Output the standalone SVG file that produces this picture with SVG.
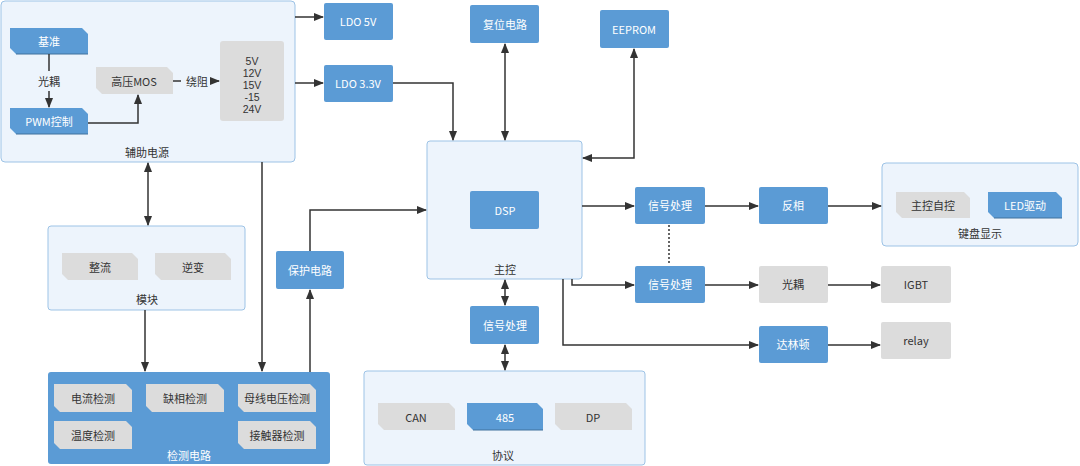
<svg xmlns="http://www.w3.org/2000/svg" width="1080" height="466" viewBox="0 0 1080 466">
<defs>
<style>
text{font-family:"Noto Sans CJK SC","Noto Sans",sans-serif;font-size:11px;text-anchor:middle;dominant-baseline:central;fill:#333}
.w{fill:#fff}
.v{font-family:"Liberation Sans",sans-serif;font-size:10.5px}
.panel{fill:#EDF4FC;stroke:#9DC3E6;stroke-width:1}
.blue{fill:#5B9BD5}
.gray{fill:#DCDCDC}
.ln{fill:none;stroke:#333;stroke-width:1.5}
</style>
<marker id="a" viewBox="0 0 10 10" refX="9" refY="5" markerWidth="7" markerHeight="7" orient="auto-start-reverse"><path d="M0,1 L10,5 L0,9 z" fill="#333"/></marker>
</defs>
<rect width="1080" height="466" fill="#fff"/>

<g id="aux"><rect class="panel" x="1" y="1" width="294" height="161" rx="4"/>
<text x="147" y="152">辅助电源</text>
<rect class="gray" x="220" y="41" width="64" height="80" rx="3"/>
<text class="v" x="252" y="61">5V</text><text class="v" x="252" y="73">12V</text><text class="v" x="252" y="85">15V</text><text class="v" x="252" y="97">-15</text><text class="v" x="252" y="109">24V</text></g>
<g id="jizhun"><path class="blue" d="M10,28 H82 L88,34 V54 H16 L10,48 Z"/><line x1="16" y1="54" x2="88" y2="54" stroke="#41719C"/><text class="w" x="49" y="41">基准</text></g>
<g id="pwm"><path class="blue" d="M10,108 H82 L88,114 V134 H16 L10,128 Z"/><line x1="16" y1="134" x2="88" y2="134" stroke="#41719C"/><text class="w" x="49" y="121">PWM控制</text></g>
<g id="mos"><path class="gray" d="M96,67 H167 L173,73 V94 H102 L96,88 Z"/><text x="134" y="81">高压MOS</text></g>

<g id="ldo5"><rect class="blue" x="324" y="3" width="69" height="37" rx="2"/><text class="w" x="358" y="21">LDO 5V</text></g>
<g id="ldo33"><rect class="blue" x="324" y="65" width="69" height="37" rx="2"/><text class="w" x="358" y="83">LDO 3.3V</text></g>
<g id="reset"><rect class="blue" x="470" y="5" width="69" height="38" rx="2"/><text class="w" x="505" y="24">复位电路</text></g>
<g id="eeprom"><rect class="blue" x="600" y="10" width="69" height="38" rx="2"/><text class="w" x="634" y="29">EEPROM</text></g>

<g id="mcu"><rect class="panel" x="427" y="141" width="155" height="138" rx="3"/><text x="505" y="269">主控</text>
<rect class="blue" x="470" y="191" width="69" height="38" rx="2"/><text class="w" x="505" y="210">DSP</text></g>

<g id="sig1"><rect class="blue" x="635" y="187" width="70" height="37" rx="2"/><text class="w" x="670" y="205">信号处理</text></g>
<g id="sig2"><rect class="blue" x="635" y="266" width="70" height="37" rx="2"/><text class="w" x="670" y="284">信号处理</text></g>
<g id="inv"><rect class="blue" x="759" y="187" width="69" height="37" rx="2"/><text class="w" x="793" y="205">反相</text></g>
<g id="opto"><rect class="gray" x="759" y="266" width="69" height="37" rx="2"/><text x="793" y="284">光耦</text></g>
<g id="igbt"><rect class="gray" x="881" y="266" width="70" height="37" rx="2"/><text x="916" y="284">IGBT</text></g>
<g id="darl"><rect class="blue" x="759" y="326" width="69" height="37" rx="2"/><text class="w" x="793" y="344">达林顿</text></g>
<g id="relay"><rect class="gray" x="881" y="322" width="70" height="37" rx="2"/><text x="916" y="340">relay</text></g>

<g id="kbd"><rect class="panel" x="882" y="163" width="196" height="83" rx="4"/><text x="980" y="233">键盘显示</text>
<path class="gray" d="M896,192 H964 L970,198 V218 H902 L896,212 Z"/><text x="933" y="205">主控自控</text>
<path class="blue" d="M988,192 H1056 L1062,198 V218 H994 L988,212 Z"/><line x1="994" y1="218" x2="1062" y2="218" stroke="#41719C"/><text class="w" x="1025" y="205">LED驱动</text></g>

<g id="module"><rect class="panel" x="48" y="226" width="197" height="84" rx="3"/><text x="147" y="299">模块</text>
<path class="gray" d="M62,253 H132 L138,259 V280 H68 L62,274 Z"/><text x="100" y="267">整流</text>
<path class="gray" d="M155,253 H225 L231,259 V280 H161 L155,274 Z"/><text x="193" y="267">逆变</text></g>

<g id="prot"><rect class="blue" x="276" y="251" width="68" height="38" rx="2"/><text class="w" x="310" y="270">保护电路</text></g>
<g id="sig3"><rect class="blue" x="470" y="306" width="69" height="38" rx="2"/><text class="w" x="505" y="325">信号处理</text></g>

<g id="proto"><rect class="panel" x="364" y="371" width="281" height="94" rx="3"/><text x="503" y="455">协议</text>
<path class="gray" d="M378,403 H449 L455,409 V430 H384 L378,424 Z"/><text x="416" y="417">CAN</text>
<path class="blue" d="M467,403 H537 L543,409 V430 H473 L467,424 Z"/><line x1="473" y1="430" x2="543" y2="430" stroke="#41719C"/><text class="w" x="505" y="417">485</text>
<path class="gray" d="M555,403 H626 L632,409 V430 H561 L555,424 Z"/><text x="593" y="417">DP</text></g>

<g id="detect"><rect x="48" y="372" width="282" height="92" rx="3" fill="#5B9BD5"/><text class="w" x="189" y="455">检测电路</text>
<path class="gray" d="M54,384 H126 L132,390 V412 H60 L54,406 Z"/><text x="93" y="398">电流检测</text>
<path class="gray" d="M146,384 H218 L224,390 V412 H152 L146,406 Z"/><text x="185" y="398">缺相检测</text>
<path class="gray" d="M238,384 H310 L316,390 V412 H244 L238,406 Z"/><text x="277" y="398">母线电压检测</text>
<path class="gray" d="M54,421 H126 L132,427 V449 H60 L54,443 Z"/><text x="93" y="435">温度检测</text>
<path class="gray" d="M238,421 H310 L316,427 V449 H244 L238,443 Z"/><text x="277" y="435">接触器检测</text></g>

<g id="connectors">
<line class="ln" x1="49" y1="54" x2="49" y2="71"/><text x="49" y="81">光耦</text>
<line class="ln" x1="49" y1="91" x2="49" y2="107" marker-end="url(#a)"/>
<path class="ln" d="M88,123 H138 V95" marker-end="url(#a)"/>
<line class="ln" x1="173" y1="81" x2="181" y2="81"/><text x="197" y="81">绕阻</text>
<line class="ln" x1="212" y1="81" x2="219" y2="81" marker-end="url(#a)"/>
<line class="ln" x1="295" y1="17" x2="323" y2="17" marker-end="url(#a)"/>
<line class="ln" x1="295" y1="83" x2="323" y2="83" marker-end="url(#a)"/>
<path class="ln" d="M393,83 H453 V140" marker-end="url(#a)"/>
<line class="ln" x1="505" y1="44" x2="505" y2="140" marker-start="url(#a)" marker-end="url(#a)"/>
<path class="ln" d="M583,158 H634 V49" marker-start="url(#a)" marker-end="url(#a)"/>
<line class="ln" x1="582" y1="206" x2="634" y2="206" marker-end="url(#a)"/>
<line class="ln" x1="705" y1="206" x2="758" y2="206" marker-end="url(#a)"/>
<line class="ln" x1="828" y1="206" x2="881" y2="206" marker-end="url(#a)"/>
<line x1="669" y1="225" x2="669" y2="265" stroke="#333" stroke-width="1.5" stroke-dasharray="2,2"/>
<path class="ln" d="M572,279 V285 H634" marker-end="url(#a)"/>
<line class="ln" x1="705" y1="285" x2="758" y2="285" marker-end="url(#a)"/>
<line class="ln" x1="828" y1="285" x2="880" y2="285" marker-end="url(#a)"/>
<path class="ln" d="M563,279 V345 H758" marker-end="url(#a)"/>
<line class="ln" x1="828" y1="345" x2="880" y2="345" marker-end="url(#a)"/>
<line class="ln" x1="505" y1="280" x2="505" y2="305" marker-start="url(#a)" marker-end="url(#a)"/>
<line class="ln" x1="505" y1="345" x2="505" y2="370" marker-start="url(#a)" marker-end="url(#a)"/>
<line class="ln" x1="148" y1="163" x2="148" y2="225" marker-start="url(#a)" marker-end="url(#a)"/>
<line class="ln" x1="145" y1="310" x2="145" y2="371" marker-end="url(#a)"/>
<line class="ln" x1="262" y1="162" x2="262" y2="371" marker-end="url(#a)"/>
<line class="ln" x1="310" y1="372" x2="310" y2="290" marker-end="url(#a)"/>
<path class="ln" d="M310,251 V210 H426" marker-end="url(#a)"/>
</g>
</svg>
